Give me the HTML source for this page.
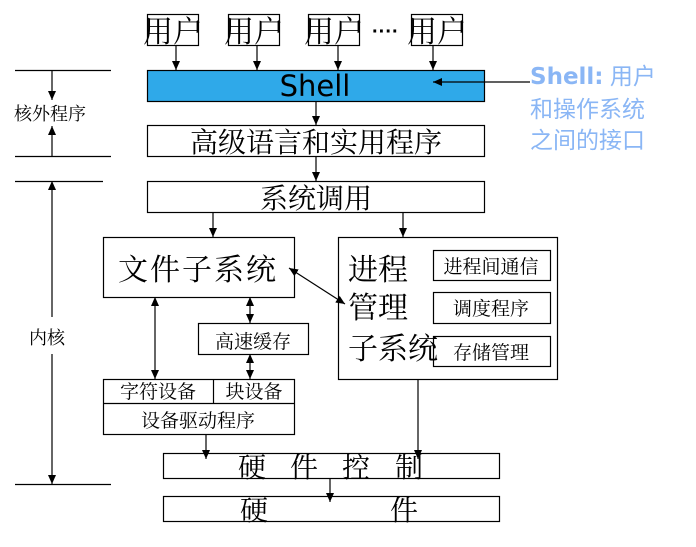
<!DOCTYPE html>
<html><head><meta charset="utf-8"><style>
html,body{margin:0;padding:0;background:#fff;}
svg{display:block;}
text{font-family:"Liberation Serif","Noto Serif CJK SC",serif;fill:#000;}
</style></head><body>
<svg width="696" height="547" viewBox="0 0 696 547" xmlns="http://www.w3.org/2000/svg">
<defs>
<marker id="a" markerWidth="10" markerHeight="10" refX="9" refY="5" orient="auto" markerUnits="userSpaceOnUse">
<path d="M0,1 L9,5 L0,9 z" fill="#000"/></marker>
<marker id="s" markerWidth="10" markerHeight="10" refX="1" refY="5" orient="auto" markerUnits="userSpaceOnUse">
<path d="M10,1 L1,5 L10,9 z" fill="#000"/></marker>
</defs>
<g fill="none" stroke="#000" stroke-width="1.2">
<rect x="147.5" y="14.5" width="51" height="31"/>
<rect x="228.5" y="14.5" width="51" height="31"/>
<rect x="308.5" y="14.5" width="51" height="31"/>
<rect x="411.5" y="14.5" width="51" height="31"/>
<line x1="176" y1="45" x2="176" y2="70" marker-end="url(#a)"/>
<line x1="257" y1="45" x2="257" y2="70" marker-end="url(#a)"/>
<line x1="338" y1="45" x2="338" y2="70" marker-end="url(#a)"/>
<line x1="433" y1="45" x2="433" y2="70" marker-end="url(#a)"/>
<rect x="147.5" y="70.5" width="337" height="31" fill="#2fa9e9"/>
<line x1="530" y1="82" x2="433" y2="82" marker-end="url(#a)"/>
<line x1="316" y1="101" x2="316" y2="125" marker-end="url(#a)"/>
<rect x="147.5" y="125.5" width="337" height="31"/>
<line x1="316" y1="156" x2="316" y2="181" marker-end="url(#a)"/>
<rect x="147.5" y="181.5" width="337" height="31"/>
<line x1="213" y1="212" x2="213" y2="237" marker-end="url(#a)"/>
<line x1="403" y1="212" x2="403" y2="237" marker-end="url(#a)"/>
<rect x="103.5" y="237.5" width="191" height="60"/>
<rect x="338.5" y="237.5" width="219" height="142"/>
<rect x="433.5" y="250.5" width="117" height="30"/>
<rect x="433.5" y="292.5" width="117" height="31"/>
<rect x="433.5" y="336.5" width="117" height="30"/>
<line x1="289" y1="268" x2="345" y2="304" marker-start="url(#s)" marker-end="url(#a)"/>
<rect x="198.5" y="323.5" width="110" height="31"/>
<line x1="250" y1="297" x2="250" y2="323" marker-start="url(#s)" marker-end="url(#a)"/>
<line x1="250" y1="354" x2="250" y2="379" marker-start="url(#s)" marker-end="url(#a)"/>
<line x1="155" y1="297" x2="155" y2="379" marker-start="url(#s)" marker-end="url(#a)"/>
<rect x="103.5" y="379.5" width="191" height="55"/>
<line x1="103" y1="403.5" x2="294" y2="403.5"/>
<line x1="213.5" y1="379" x2="213.5" y2="403"/>
<line x1="206" y1="434" x2="206" y2="459" marker-end="url(#a)"/>
<line x1="418" y1="379" x2="418" y2="459" marker-end="url(#a)"/>
<rect x="163.5" y="453.5" width="336" height="25"/>
<line x1="330" y1="478" x2="330" y2="502" marker-end="url(#a)"/>
<rect x="163.5" y="496.5" width="336" height="25"/>
<line x1="15" y1="70.5" x2="111" y2="70.5"/>
<line x1="15" y1="156.5" x2="111" y2="156.5"/>
<line x1="15" y1="181.5" x2="103" y2="181.5"/>
<line x1="15" y1="484.5" x2="111" y2="484.5"/>
<line x1="52" y1="70" x2="52" y2="100" marker-end="url(#a)"/>
<line x1="52" y1="156" x2="52" y2="126" marker-end="url(#a)"/>
<line x1="52" y1="317" x2="52" y2="181" marker-end="url(#a)"/>
<line x1="52" y1="354" x2="52" y2="484" marker-end="url(#a)"/>
</g>
<g font-size="30">
<text x="143" y="42">用户</text>
<text x="224" y="42">用户</text>
<text x="304" y="42">用户</text>
<text x="407" y="42">用户</text>
</g>
<text x="372" y="38" font-size="20" font-weight="bold" style="font-family:'Liberation Sans',sans-serif">····</text>
<text x="315" y="96" font-size="29" text-anchor="middle" style="font-family:'DejaVu Sans',sans-serif">Shell</text>
<text x="316" y="152" font-size="28" text-anchor="middle">高级语言和实用程序</text>
<text x="316" y="208" font-size="28" text-anchor="middle">系统调用</text>
<text x="198" y="280" font-size="30" text-anchor="middle" letter-spacing="2">文件子系统</text>
<text x="348" y="280" font-size="30">进程</text>
<text x="348" y="318" font-size="30">管理</text>
<text x="348" y="359" font-size="30">子系统</text>
<text x="491" y="273" font-size="19" text-anchor="middle">进程间通信</text>
<text x="491" y="315" font-size="19" text-anchor="middle">调度程序</text>
<text x="491" y="359" font-size="19" text-anchor="middle">存储管理</text>
<text x="253" y="348" font-size="19" text-anchor="middle">高速缓存</text>
<text x="158" y="398" font-size="19" text-anchor="middle">字符设备</text>
<text x="254" y="398" font-size="19" text-anchor="middle">块设备</text>
<text x="198" y="427" font-size="19" text-anchor="middle">设备驱动程序</text>
<g font-size="28">
<text x="238" y="477">硬</text><text x="290" y="477">件</text><text x="342" y="477">控</text><text x="395" y="477">制</text>
<text x="240" y="520">硬</text><text x="390" y="520">件</text>
</g>
<text x="14" y="120" font-size="18" fill="#1a4a8a">核外程序</text>
<text x="29" y="344" font-size="18" fill="#1a4a8a">内核</text>
<g font-size="23">
<text x="530" y="84" style="fill:#8ab6f5;font-family:'Liberation Sans','Noto Sans CJK SC',sans-serif"><tspan font-weight="bold" style="font-family:'DejaVu Sans',sans-serif">Shell:</tspan><tspan> 用户</tspan></text>
<text x="530" y="117" style="fill:#8ab6f5;font-family:'Liberation Sans','Noto Sans CJK SC',sans-serif">和操作系统</text>
<text x="530" y="148" style="fill:#8ab6f5;font-family:'Liberation Sans','Noto Sans CJK SC',sans-serif">之间的接口</text>
</g>
</svg>
</body></html>
